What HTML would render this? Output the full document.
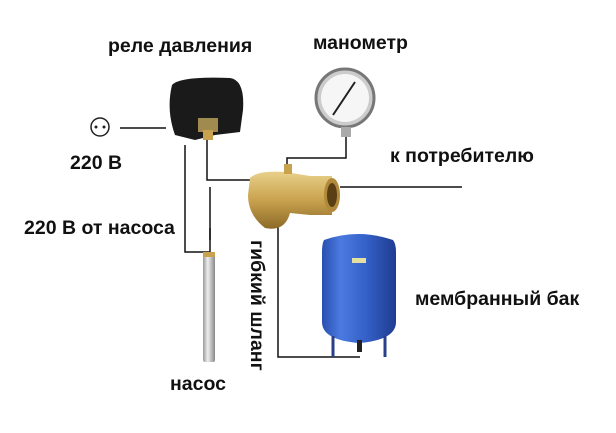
<!DOCTYPE html><html><head><style>
body{margin:0;width:616px;height:433px;background:#fff;position:relative;overflow:hidden;font-family:"Liberation Sans",sans-serif;font-weight:bold;color:#111}
.t{position:absolute;font-size:19.5px;line-height:1;white-space:nowrap}
</style></head><body>
<svg width="616" height="433" style="position:absolute;left:0;top:0">
<defs>
<linearGradient id="br" x1="0" y1="0" x2="0" y2="1"><stop offset="0" stop-color="#e8d08a"/><stop offset=".5" stop-color="#c9a24e"/><stop offset="1" stop-color="#8c6a28"/></linearGradient>
<linearGradient id="bl" x1="0" y1="0" x2="1" y2="0"><stop offset="0" stop-color="#2a4fb0"/><stop offset=".25" stop-color="#4a7ae0"/><stop offset=".6" stop-color="#3460c8"/><stop offset="1" stop-color="#1f3c90"/></linearGradient>
<linearGradient id="pm" x1="0" y1="0" x2="1" y2="0"><stop offset="0" stop-color="#9a9a9a"/><stop offset=".4" stop-color="#eee"/><stop offset="1" stop-color="#888"/></linearGradient>
</defs>
<g fill="none" stroke="#111" stroke-width="1.5">
<path d="M120 128H166"/>
<path d="M185 145V252H210V228"/>
<path d="M207 138V180H250"/>
<path d="M210 187V240"/>
<path d="M346 135V158H287V172"/>
<path d="M340 187H462"/>
<path d="M278 222V357H360"/>
</g>
<circle cx="100" cy="127" r="9" fill="#fff" stroke="#222" stroke-width="1.5"/>
<circle cx="96" cy="127" r="1.5" fill="#222"/><circle cx="104" cy="127" r="1.5" fill="#222"/>
<path d="M172 85Q180 76 230 78Q245 80 243 110L240 132L215 135L195 140L175 135Q166 110 172 85Z" fill="#1a1a1a"/>
<rect x="198" y="118" width="20" height="14" fill="#a08a50"/>
<rect x="203" y="130" width="10" height="10" fill="#c9a24e"/>
<circle cx="345" cy="98" r="29" fill="#ccc" stroke="#777" stroke-width="3"/>
<circle cx="345" cy="98" r="24" fill="#f6f6f6"/>
<path d="M333 115L355 82" stroke="#222" stroke-width="2"/>
<rect x="341" y="127" width="10" height="10" fill="#aaa"/>
<path d="M250 178Q258 170 285 172L310 176H332V215H310L290 213Q285 232 265 228Q248 215 248 195Z" fill="url(#br)"/>
<ellipse cx="332" cy="195" rx="8" ry="17" fill="#b08a3a"/>
<ellipse cx="332" cy="195" rx="5" ry="12" fill="#5a3f14"/>
<rect x="284" y="164" width="8" height="10" fill="#c9a24e"/>
<path d="M324 240Q358 228 393 240Q396 244 396 252V322Q396 340 359 343Q322 340 322 322V252Q322 244 324 240Z" fill="url(#bl)"/>
<rect x="352" y="258" width="14" height="5" fill="#e6e0a0"/>
<path d="M333 336V357M385 336V357" stroke="#2a3f8a" stroke-width="3"/>
<rect x="357" y="340" width="5" height="12" fill="#222"/>
<rect x="203" y="252" width="12" height="110" rx="2" fill="url(#pm)"/>
<rect x="203" y="252" width="12" height="5" fill="#c9a24e"/>
</svg>
<div class="t" style="left:108px;top:37px">реле давления</div>
<div class="t" style="left:313px;top:34px">манометр</div>
<div class="t" style="left:70px;top:154px">220 В</div>
<div class="t" style="left:390px;top:147px">к потребителю</div>
<div class="t" style="left:24px;top:219px">220 В от насоса</div>
<div class="t" style="left:415px;top:290px">мембранный бак</div>
<div class="t" style="left:170px;top:375px">насос</div>
<div class="t" style="left:0;top:0;transform-origin:0 0;transform:translate(266px,240px) rotate(90deg)">гибкий шланг</div>
</body></html>
